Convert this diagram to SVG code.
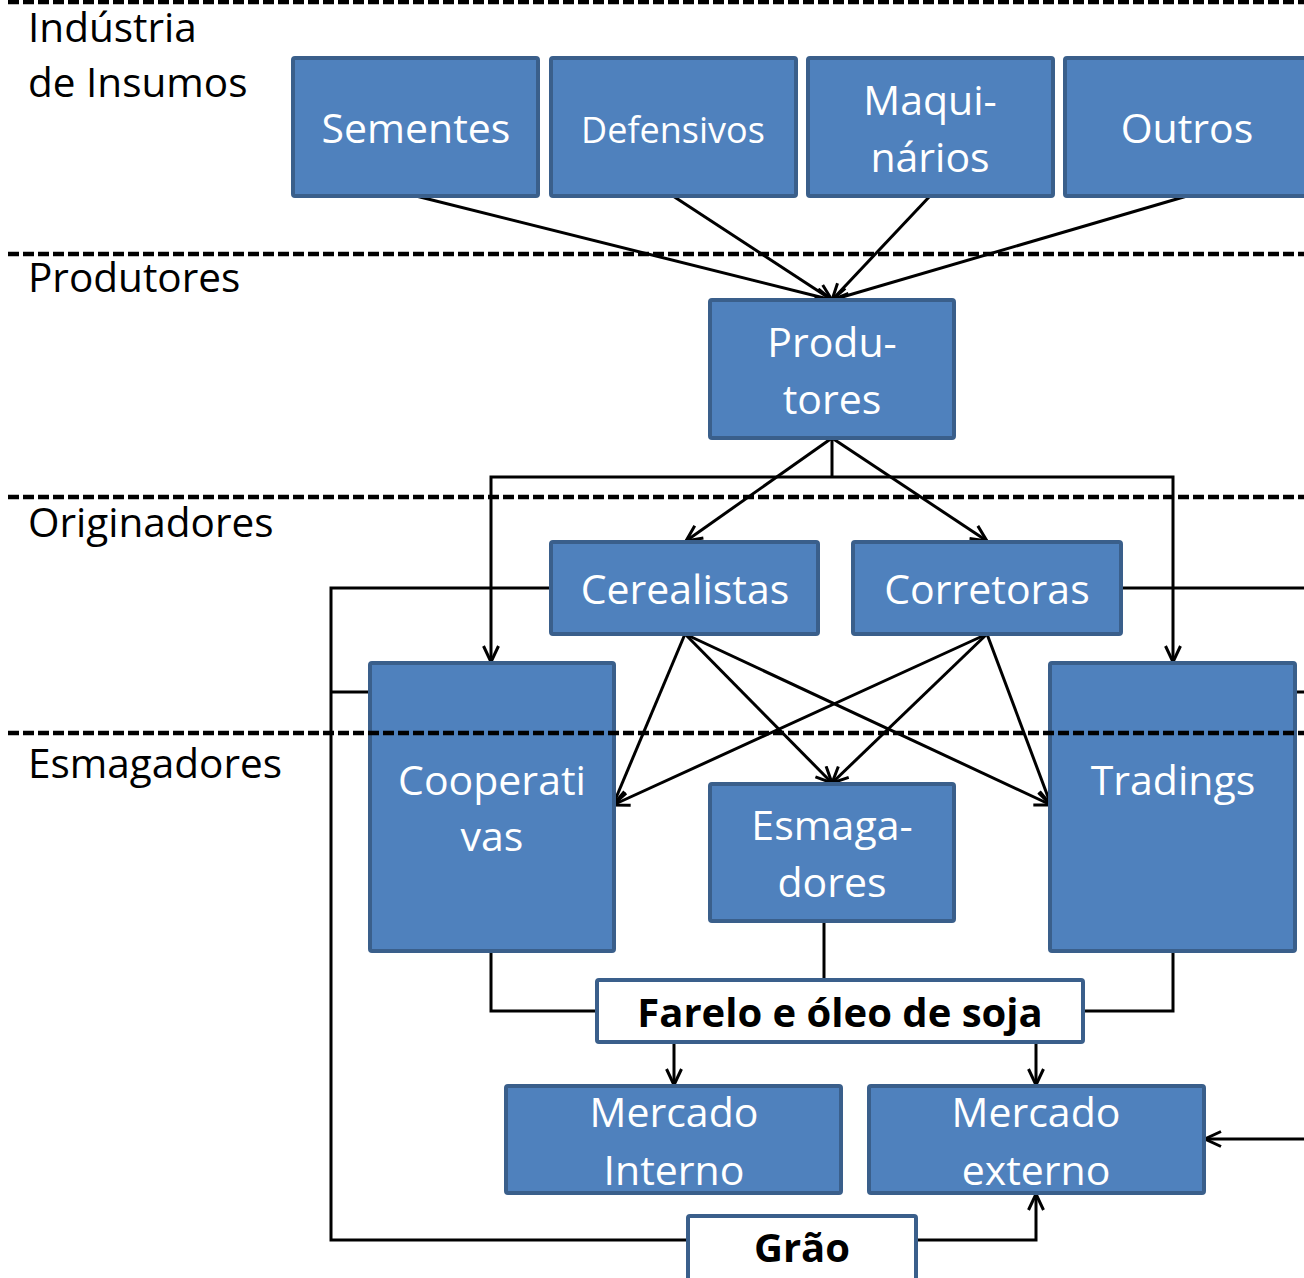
<svg xmlns="http://www.w3.org/2000/svg" width="1304" height="1278" viewBox="0 0 1304 1278">
<style>
.box{fill:#4F81BD;stroke:#3A5F8B;stroke-width:4}
.wbox{fill:#FFFFFF;stroke:#3A5F8B;stroke-width:4}
.t{font-family:"Open Sans","Noto Sans",sans-serif;font-size:41px;fill:#FFFFFF;text-anchor:middle}
.b{font-family:"Open Sans","Noto Sans",sans-serif;font-size:40px;font-weight:bold;fill:#000000;text-anchor:middle}
.lab{font-family:"Open Sans","Noto Sans",sans-serif;font-size:40.5px;fill:#000000}
.c{fill:none;stroke:#000000;stroke-width:3}
.a{marker-end:url(#arr)}
.dash{stroke:#000000;stroke-width:4.5;stroke-dasharray:11 4;fill:none}
</style>
<defs>
<marker id="arr" viewBox="0 0 18 18" refX="17" refY="9" markerWidth="18" markerHeight="18" markerUnits="userSpaceOnUse" orient="auto">
<path d="M1,1.5 L17,9 L1,16.5" fill="none" stroke="#000000" stroke-width="3"/>
</marker>
</defs>
<rect width="1304" height="1278" fill="#FFFFFF"/>
<g id="labels">
<text class="lab" x="28" y="42">Indústria</text>
<text class="lab" x="28" y="97">de Insumos</text>
<text class="lab" x="28" y="292">Produtores</text>
<text class="lab" x="28" y="537">Originadores</text>
<text class="lab" x="28" y="778">Esmagadores</text>
</g>
<g id="connectors">
<line class="c a" x1="416" y1="196" x2="832" y2="300"/>
<line class="c a" x1="673" y1="196" x2="832" y2="300"/>
<line class="c a" x1="930" y1="196" x2="832" y2="300"/>
<line class="c a" x1="1187" y1="196" x2="832" y2="300"/>
<line class="c a" x1="832" y1="438" x2="686" y2="541"/>
<line class="c a" x1="832" y1="438" x2="987" y2="541"/>
<polyline class="c" points="832,438 832,477"/>
<polyline class="c a" points="832,477 491,477 491,662"/>
<polyline class="c a" points="832,477 1173,477 1173,662"/>
<polyline class="c" points="551,588 331,588 331,1240 688,1240"/>
<line class="c" x1="331" y1="692" x2="370" y2="692"/>
<line class="c" x1="1121" y1="588" x2="1304" y2="588"/>
<line class="c" x1="1295" y1="692" x2="1304" y2="692"/>
<line class="c a" x1="685" y1="634" x2="613" y2="805"/>
<line class="c a" x1="685" y1="634" x2="832" y2="783"/>
<line class="c a" x1="685" y1="634" x2="1051" y2="805"/>
<line class="c a" x1="987" y1="634" x2="613" y2="805"/>
<line class="c a" x1="987" y1="634" x2="832" y2="783"/>
<line class="c a" x1="987" y1="634" x2="1051" y2="805"/>
<polyline class="c" points="491,951 491,1011 597,1011"/>
<polyline class="c" points="1173,951 1173,1011 1083,1011"/>
<line class="c" x1="824" y1="921" x2="824" y2="980"/>
<line class="c a" x1="674" y1="1042" x2="674" y2="1085"/>
<line class="c a" x1="1036" y1="1042" x2="1036" y2="1085"/>
<polyline class="c a" points="916,1240 1036,1240 1036,1194"/>
<line class="c a" x1="1304" y1="1139" x2="1205" y2="1139"/>
</g>
<g id="sementes"><rect class="box" x="293" y="58" width="245" height="138" rx="2"/><text class="t" x="416" y="143">Sementes</text></g>
<g id="defensivos"><rect class="box" x="551" y="58" width="245" height="138" rx="2"/><text class="t" x="673" y="143" style="font-size:36px">Defensivos</text></g>
<g id="maquinarios"><rect class="box" x="808" y="58" width="245" height="138" rx="2"/><text class="t" x="930" y="115">Maqui-</text><text class="t" x="930" y="172">nários</text></g>
<g id="outros"><rect class="box" x="1065" y="58" width="245" height="138" rx="2"/><text class="t" x="1187" y="143">Outros</text></g>
<g id="produtores"><rect class="box" x="710" y="300" width="244" height="138" rx="2"/><text class="t" x="832" y="357">Produ-</text><text class="t" x="832" y="414">tores</text></g>
<g id="cerealistas"><rect class="box" x="551" y="542" width="267" height="92" rx="2"/><text class="t" x="685" y="604">Cerealistas</text></g>
<g id="corretoras"><rect class="box" x="853" y="542" width="268" height="92" rx="2"/><text class="t" x="987" y="604">Corretoras</text></g>
<g id="cooperativas"><rect class="box" x="370" y="663" width="244" height="288" rx="2"/><text class="t" x="492" y="795">Cooperati</text><text class="t" x="492" y="851">vas</text></g>
<g id="tradings"><rect class="box" x="1050" y="663" width="245" height="288" rx="2"/><text class="t" x="1173" y="795">Tradings</text></g>
<g id="esmagadores"><rect class="box" x="710" y="784" width="244" height="137" rx="2"/><text class="t" x="832" y="840">Esmaga-</text><text class="t" x="832" y="897">dores</text></g>
<g id="farelo"><rect class="wbox" x="597" y="980" width="486" height="62" rx="2"/><text class="b" x="840" y="1027">Farelo e óleo de soja</text></g>
<g id="mercado-interno"><rect class="box" x="506" y="1086" width="335" height="107" rx="2"/><text class="t" x="674" y="1127">Mercado</text><text class="t" x="674" y="1185">Interno</text></g>
<g id="mercado-externo"><rect class="box" x="869" y="1086" width="335" height="107" rx="2"/><text class="t" x="1036" y="1127">Mercado</text><text class="t" x="1036" y="1185">externo</text></g>
<g id="grao"><rect class="wbox" x="688" y="1216" width="228" height="64" rx="2"/><text class="b" x="802" y="1262">Grão</text></g>
<g id="layers">
<line class="dash" x1="8" y1="2" x2="1304" y2="2"/>
<line class="dash" x1="8" y1="254" x2="1304" y2="254"/>
<line class="dash" x1="8" y1="497" x2="1304" y2="497"/>
<line class="dash" x1="8" y1="733" x2="1304" y2="733"/>
</g>
</svg>
